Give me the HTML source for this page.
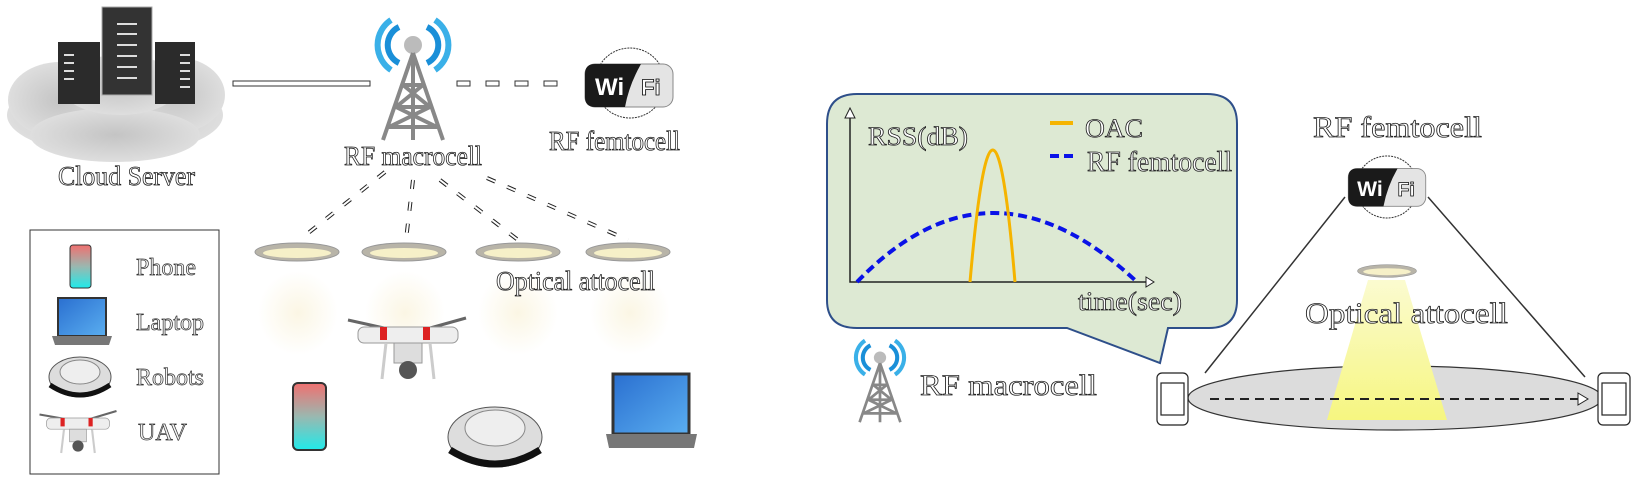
<!DOCTYPE html>
<html><head><meta charset="utf-8"><style>
html,body{margin:0;padding:0;background:#fff;}
svg{display:block;}
.o{font-family:"Liberation Serif",serif;fill:#fff;stroke:#222;stroke-width:0.8;}
.p{font-family:"Liberation Serif",serif;fill:#f4f4f4;stroke:#333;stroke-width:0.7;}
</style></head><body>
<svg width="1643" height="480" viewBox="0 0 1643 480" xmlns="http://www.w3.org/2000/svg">
<defs>
<radialGradient id="cloud" cx="50%" cy="50%" r="50%"><stop offset="0" stop-color="#c4c4c4"/><stop offset="1" stop-color="#dedede"/></radialGradient>
<radialGradient id="glow" cx="50%" cy="50%" r="50%"><stop offset="0" stop-color="#fbf6e4"/><stop offset="1" stop-color="#fff"/></radialGradient>
<linearGradient id="ph" x1="0" y1="0" x2="0" y2="1"><stop offset="0" stop-color="#f07070"/><stop offset="0.5" stop-color="#9ab8b0"/><stop offset="1" stop-color="#20eaea"/></linearGradient>
<linearGradient id="scr" x1="0" y1="0" x2="1" y2="1"><stop offset="0" stop-color="#2a6fd0"/><stop offset="1" stop-color="#5aaef0"/></linearGradient>
<linearGradient id="beam" x1="0" y1="0" x2="0" y2="1"><stop offset="0" stop-color="#fbfbd0"/><stop offset="1" stop-color="#f6f680"/></linearGradient>
<g id="tower">
 <path d="M-22,-55 A30,30 0 0 0 -22,-5" fill="none" stroke="#3ab0e8" stroke-width="6"/>
 <path d="M-14,-48 A20,20 0 0 0 -14,-12" fill="none" stroke="#1a8fd8" stroke-width="6"/>
 <path d="M22,-55 A30,30 0 0 1 22,-5" fill="none" stroke="#3ab0e8" stroke-width="6"/>
 <path d="M14,-48 A20,20 0 0 1 14,-12" fill="none" stroke="#1a8fd8" stroke-width="6"/>
 <circle cx="0" cy="-30" r="9" fill="#bbb"/>
 <path d="M0,-22 L-30,65 M0,-22 L30,65 M0,-22 L0,65 M-10,10 L10,10 M-17,32 L17,32 M-24,52 L24,52 M-10,10 L17,32 M10,10 L-17,32 M-17,32 L24,52 M17,32 L-24,52" stroke="#888" stroke-width="4" fill="none"/>
</g>
<g id="wifi">
 <rect x="-44" y="-21" width="88" height="43" rx="10" fill="#e4e4e4" stroke="#888"/>
 <path d="M-44,-11 Q-44,-21 -34,-21 L12,-21 Q0,0 -4,22 L-34,22 Q-44,22 -44,12 Z" fill="#1a1a1a"/>
 <text x="-34" y="10" font-family="Liberation Sans,sans-serif" font-weight="bold" font-size="24" fill="#fff">Wi</text>
 <text x="12" y="10" font-family="Liberation Sans,sans-serif" font-weight="bold" font-size="22" fill="#fff" stroke="#000" stroke-width="0.8">Fi</text>
</g>
<g id="lamp">
 <ellipse cx="0" cy="0" rx="42" ry="9" fill="#b8b4a8" stroke="#999"/>
 <ellipse cx="0" cy="1" rx="34" ry="5" fill="#f6f0c8"/>
</g>
</defs>

<!-- cloud server -->
<g fill="url(#cloud)">
<ellipse cx="115" cy="115" rx="108" ry="40"/>
<ellipse cx="60" cy="100" rx="52" ry="38"/>
<ellipse cx="175" cy="95" rx="50" ry="38"/>
<ellipse cx="115" cy="135" rx="85" ry="27"/>
<ellipse cx="120" cy="85" rx="60" ry="30"/>
</g>
<rect x="58" y="42" width="42" height="62" fill="#2b2b2b"/>
<rect x="155" y="42" width="40" height="62" fill="#2b2b2b"/>
<rect x="102" y="7" width="50" height="88" fill="#333" stroke="#aaa"/>
<g stroke="#ddd" stroke-width="2">
<path d="M117,24h20M117,34h20M117,45h20M117,56h20M117,67h20M117,78h20"/>
<path d="M64,55h10M64,63h10M64,71h10M64,79h10M180,55h10M180,63h10M180,71h10M180,79h10M180,87h10"/>
</g>
<text class="o" x="58" y="185" font-size="27" textLength="137" lengthAdjust="spacingAndGlyphs">Cloud Server</text>

<!-- links -->
<rect x="233" y="81" width="137" height="5" fill="#fff" stroke="#333"/>
<g fill="#fff" stroke="#333"><rect x="457" y="81" width="13" height="5"/><rect x="486" y="81" width="13" height="5"/><rect x="515" y="81" width="13" height="5"/><rect x="544" y="81" width="13" height="5"/></g>
<use href="#tower" x="413" y="75"/>
<text class="o" x="344" y="165" font-size="27" textLength="138" lengthAdjust="spacingAndGlyphs">RF macrocell</text>
<circle cx="630" cy="83" r="35" fill="#fff" stroke="#333" stroke-dasharray="2,1"/>
<use href="#wifi" x="629" y="85"/>
<text class="o" x="549" y="150" font-size="27" textLength="131" lengthAdjust="spacingAndGlyphs">RF femtocell</text>

<!-- dashed links to lamps -->
<g stroke="#222" stroke-width="4" stroke-dasharray="9,13" fill="none">
<path d="M385,172 L302,238"/>
<path d="M413,180 L406,240"/>
<path d="M440,180 L518,240"/>
<path d="M487,178 L628,240"/>
</g>
<g stroke="#fff" stroke-width="2" stroke-dasharray="9,13" fill="none">
<path d="M385,172 L302,238"/>
<path d="M413,180 L406,240"/>
<path d="M440,180 L518,240"/>
<path d="M487,178 L628,240"/>
</g>
<g fill="url(#glow)"><ellipse cx="298" cy="313" rx="40" ry="42"/><ellipse cx="405" cy="313" rx="40" ry="42"/><ellipse cx="518" cy="313" rx="40" ry="42"/><ellipse cx="630" cy="313" rx="40" ry="42"/></g>
<use href="#lamp" x="297" y="252"/><use href="#lamp" x="404" y="252"/><use href="#lamp" x="518" y="252"/><use href="#lamp" x="628" y="252"/>
<text class="o" x="496" y="290" font-size="27" textLength="159" lengthAdjust="spacingAndGlyphs">Optical attocell</text>

<!-- legend -->
<rect x="30" y="230" width="189" height="244" fill="#fff" stroke="#333"/>
<rect x="70" y="245" width="21" height="43" rx="3" fill="url(#ph)" stroke="#333"/>
<text class="p" x="136" y="275" font-size="24">Phone</text>
<rect x="58" y="298" width="48" height="38" fill="url(#scr)" stroke="#333" stroke-width="2"/><path d="M52,336 h60 l-3,9 h-54 z" fill="#777"/>
<text class="p" x="136" y="330" font-size="24">Laptop</text>
<ellipse cx="80" cy="377" rx="31" ry="20" fill="#ddd" stroke="#555"/><ellipse cx="80" cy="372" rx="20" ry="12" fill="#eee" stroke="#888"/><path d="M50,385 Q80,405 110,385" stroke="#111" stroke-width="5" fill="none"/>
<text class="p" x="136" y="385" font-size="24">Robots</text>
<g transform="translate(78,432) scale(0.7)"><path d="M-55,-25 L-15,-18 M55,-30 L15,-18" stroke="#666" stroke-width="3"/><rect x="-45" y="-20" width="90" height="16" rx="6" fill="#eee" stroke="#999"/><rect x="-25" y="-20" width="6" height="12" fill="#d22"/><rect x="15" y="-20" width="6" height="12" fill="#d22"/><rect x="-12" y="-4" width="24" height="18" fill="#ddd" stroke="#999"/><circle cx="0" cy="20" r="8" fill="#555"/><path d="M-20,-4 L-24,30 M20,-4 L24,30" stroke="#ccc" stroke-width="3"/></g>
<text class="p" x="138" y="440" font-size="24">UAV</text>

<!-- devices -->
<g transform="translate(408,345)"><path d="M-60,-25 L-15,-15 M58,-27 L15,-15" stroke="#666" stroke-width="3"/><rect x="-50" y="-18" width="100" height="16" rx="6" fill="#eee" stroke="#999"/><rect x="-28" y="-18" width="7" height="13" fill="#d22"/><rect x="15" y="-18" width="7" height="13" fill="#d22"/><rect x="-14" y="-2" width="28" height="20" fill="#ddd" stroke="#999"/><circle cx="0" cy="25" r="9" fill="#555"/><path d="M-22,-2 L-26,34 M22,-2 L26,34" stroke="#ccc" stroke-width="3"/></g>
<rect x="293" y="383" width="33" height="67" rx="5" fill="url(#ph)" stroke="#333" stroke-width="2"/>
<ellipse cx="495" cy="437" rx="47" ry="30" fill="#ddd" stroke="#555"/><ellipse cx="495" cy="428" rx="30" ry="18" fill="#eee" stroke="#888"/><path d="M450,450 Q495,478 540,450" stroke="#111" stroke-width="7" fill="none"/>
<rect x="613" y="374" width="76" height="60" fill="url(#scr)" stroke="#333" stroke-width="3"/><path d="M606,434 h91 l-3,14 h-85 z" fill="#777"/>

<!-- speech bubble -->
<path d="M857,94 H1207 Q1237,94 1237,124 V300 Q1237,328 1209,328 H1168 L1160,363 L1067,328 H857 Q827,328 827,300 V124 Q827,94 857,94 Z" fill="#dde9d3" stroke="#2e4f8a" stroke-width="2"/>
<path d="M850,112 V282 H1150" fill="none" stroke="#222" stroke-width="1.5"/>
<path d="M845,118 L850,108 L855,118 Z M1146,277 L1154,282 L1146,287 Z" fill="#fff" stroke="#222"/>
<path d="M857,282 Q990,144 1137,282" fill="none" stroke="#0a12e8" stroke-width="4" stroke-dasharray="9,5"/>
<path d="M970,282 Q993,18 1015,282" fill="none" stroke="#f5b400" stroke-width="3"/>
<path d="M1050,123 H1073" stroke="#f5b400" stroke-width="4"/>
<path d="M1050,156 H1073" stroke="#0a12e8" stroke-width="4" stroke-dasharray="9,5"/>
<text class="o" x="868" y="145" font-size="26" textLength="100" lengthAdjust="spacingAndGlyphs">RSS(dB)</text>
<text class="o" x="1085" y="137" font-size="26" textLength="58" lengthAdjust="spacingAndGlyphs">OAC</text>
<text class="o" x="1087" y="171" font-size="28" textLength="145" lengthAdjust="spacingAndGlyphs">RF femtocell</text>
<text class="o" x="1078" y="310" font-size="26" textLength="104" lengthAdjust="spacingAndGlyphs">time(sec)</text>
<use href="#tower" x="880" y="378" transform="translate(880,378) scale(0.68) translate(-880,-378)"/>
<text class="o" x="920" y="395" font-size="30" textLength="177" lengthAdjust="spacingAndGlyphs">RF macrocell</text>

<!-- right scene -->
<text class="o" x="1313" y="137" font-size="30" textLength="169" lengthAdjust="spacingAndGlyphs">RF femtocell</text>
<circle cx="1387" cy="187" r="31" fill="#fff" stroke="#333" stroke-dasharray="2,1"/>
<g transform="translate(1387,187) scale(0.88)"><use href="#wifi"/></g>
<path d="M1345,197 L1205,373 M1428,197 L1585,377" stroke="#333" stroke-width="1.5"/>
<ellipse cx="1395" cy="398" rx="207" ry="32" fill="#dcdcdc" stroke="#333" stroke-width="1.2"/>
<path d="M1368,280 H1405 L1447,420 H1327 Z" fill="url(#beam)"/>
<g transform="translate(1387,271) scale(0.7)"><use href="#lamp"/></g>
<text class="o" x="1305" y="323" font-size="30" textLength="203" lengthAdjust="spacingAndGlyphs">Optical attocell</text>
<path d="M1210,399 H1583" stroke="#222" stroke-width="2" stroke-dasharray="9,6"/>
<path d="M1578,393 L1588,399 L1578,405 Z" fill="#fff" stroke="#222"/>
<g fill="#fff" stroke="#222" stroke-width="1.2">
<rect x="1157" y="373" width="31" height="52" rx="5"/><rect x="1161" y="383" width="23" height="32"/>
<rect x="1598" y="373" width="32" height="52" rx="5"/><rect x="1602" y="383" width="24" height="32"/>
</g>
</svg>
</body></html>
